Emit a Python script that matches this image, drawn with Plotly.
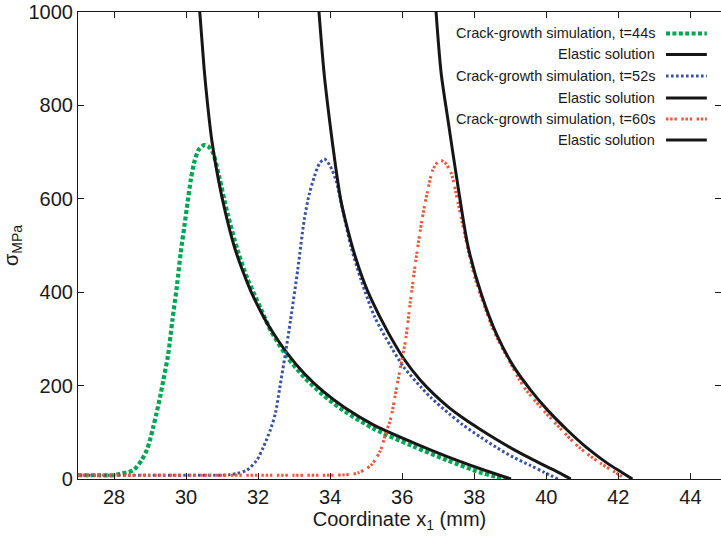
import plotly.graph_objects as go

# Stress profiles ahead of the crack tip (sigma in MPa vs coordinate x1 in mm)

# Crack-growth simulation, t = 44 s
sim44_x = [27.0, 27.5, 28.0, 28.17, 28.35, 28.54, 28.77, 28.91, 29.0, 29.09, 29.18, 29.28,
           29.37, 29.5, 29.62, 29.75, 29.85, 29.95, 30.04, 30.13, 30.22, 30.35, 30.5,
           30.62, 30.75, 30.92, 31.15, 31.43, 31.71, 32.08, 32.35, 32.82, 33.28, 33.8,
           34.4, 35.2, 36.3, 37.25, 38.17, 38.6, 39.0]
sim44_y = [8, 8, 8, 11, 14, 19, 41, 62, 84, 112, 141, 176,
           212, 265, 340, 415, 484, 540, 591, 640, 676, 705, 715,
           712, 698, 647, 569, 490, 428, 364, 318, 260, 218, 180,
           145, 108, 70, 40, 14, 5, 0]

# Elastic solution for the t = 44 s crack
ela44_x = [30.38, 30.5, 30.6, 30.72, 30.9, 31.1, 31.33, 31.55, 31.8, 32.05, 32.31, 32.82,
           33.28, 33.8, 34.4, 35.2, 36.3, 37.25, 38.17, 39.02]
ela44_y = [1000, 880, 800, 722, 640, 568, 500, 450, 402, 362, 326, 268,
           226, 188, 153, 116, 78, 48, 22, 0]

# Crack-growth simulation, t = 52 s
sim52_x = [27.0, 28.0, 29.0, 30.0, 31.0, 31.2, 31.41, 31.69, 31.97, 32.15, 32.34, 32.48,
           32.6, 32.75, 32.9, 33.1, 33.28, 33.42, 33.56, 33.7, 33.84, 34.0, 34.16,
           34.35, 34.58, 34.86, 35.23, 35.69, 36.04, 36.53, 36.8, 37.3, 37.7, 38.17,
           38.63, 39.1, 39.56, 39.95, 40.32]
sim52_y = [8, 8, 8, 8, 8, 9, 12, 19, 41, 69, 105, 141,
           195, 265, 340, 448, 555, 610, 647, 675, 685, 670, 640,
           576, 497, 426, 348, 283, 240, 196, 174, 140, 115, 90,
           67, 46, 29, 14, 0]

# Elastic solution for the t = 52 s crack
ela52_x = [33.69, 33.83, 33.98, 34.15, 34.3, 34.5, 34.67, 34.9, 35.14, 35.6, 36.04, 36.5,
           36.9, 37.3, 37.7, 38.17, 38.63, 39.1, 39.56, 40.0, 40.39, 40.68]
ela52_y = [1000, 870, 770, 670, 595, 530, 483, 430, 385, 315, 258, 212,
           180, 153, 130, 106, 84, 63, 44, 27, 12, 0]

# Crack-growth simulation, t = 60 s
sim60_x = [27.0, 28.0, 29.0, 30.0, 31.0, 32.0, 33.0, 34.0, 34.4, 34.77, 35.14, 35.4,
           35.55, 35.67, 35.85, 35.99, 36.1, 36.22, 36.4, 36.55, 36.7, 36.85, 37.0,
           37.08, 37.2, 37.36, 37.55, 37.73, 38.01, 38.29, 38.45, 38.66, 38.91, 39.37,
           39.83, 40.39, 40.94, 41.5, 41.9, 42.2]
sim60_y = [8, 8, 8, 8, 8, 8, 8, 8, 9, 13, 30, 62,
           100, 126, 198, 255, 300, 376, 480, 555, 615, 662, 680,
           682, 676, 655, 591, 526, 433, 369, 334, 298, 262, 198,
           155, 108, 66, 34, 15, 0]

# Elastic solution for the t = 60 s crack
ela60_x = [36.94, 37.08, 37.27, 37.55, 37.83, 38.2, 38.63, 39.1, 39.56, 40.03, 40.58,
           41.14, 41.69, 42.1, 42.39]
ela60_y = [1000, 870, 769, 626, 497, 395, 308, 240, 191, 148, 105,
           66, 34, 14, 0]

x_ticks = [28, 30, 32, 34, 36, 38, 40, 42, 44]
y_ticks = [0, 200, 400, 600, 800, 1000]

legend_labels = ["Crack-growth simulation, t=44s", "Elastic solution",
                 "Crack-growth simulation, t=52s", "Elastic solution",
                 "Crack-growth simulation, t=60s", "Elastic solution"]

GREEN = "#00A651"
BLUE = "#3953A4"
RED = "#F0553A"
BLACK = "#161616"
FONT = "Liberation Sans, Arial, sans-serif"

styles = [
    dict(color=GREEN, width=4.2, dash="4px,2.4px"),
    dict(color=BLACK, width=3, dash="solid"),
    dict(color=BLUE, width=3, dash="2.6px,2.4px"),
    dict(color=BLACK, width=3, dash="solid"),
    dict(color=RED, width=3, dash="2.4px,1.8px,2.4px,1.8px,2.4px,4.5px"),
    dict(color=BLACK, width=3, dash="solid"),
]

series = [(sim44_x, sim44_y), (ela44_x, ela44_y),
          (sim52_x, sim52_y), (ela52_x, ela52_y),
          (sim60_x, sim60_y), (ela60_x, ela60_y)]

fig = go.Figure()
for (xs, ys), st, name in zip(series, styles, legend_labels):
    fig.add_trace(go.Scatter(
        x=xs, y=ys, mode="lines", name=name, showlegend=False,
        line=dict(color=st["color"], width=st["width"], dash=st["dash"],
                  shape="spline", smoothing=0.8),
    ))

# Legend: right-aligned labels with the line key to their right
row_y = [0.954, 0.909, 0.863, 0.816, 0.771, 0.726]
for name, st, yy in zip(legend_labels, styles, row_y):
    fig.add_annotation(x=0.900, y=yy, xref="paper", yref="paper", text=name,
                       showarrow=False, xanchor="right", yanchor="middle",
                       font=dict(size=14.5, color="#1a1a1a", family=FONT))
    fig.add_shape(type="line", xref="paper", yref="paper",
                  x0=0.9145, x1=0.978, y0=yy, y1=yy,
                  line=dict(color=st["color"], width=st["width"], dash=st["dash"]))

axis_common = dict(
    showgrid=False, zeroline=False, showline=True, linecolor="#1a1a1a",
    linewidth=1.2, mirror="allticks", ticks="inside", ticklen=6,
    tickwidth=1, tickcolor="#1a1a1a",
    tickfont=dict(size=20, color="#1a1a1a", family=FONT),
)

fig.update_xaxes(range=[27, 44.85], tickvals=x_ticks, **axis_common,
                 title=dict(text="Coordinate x<sub>1</sub> (mm)", standoff=4,
                            font=dict(size=20, color="#1a1a1a", family=FONT)))
fig.update_yaxes(range=[0, 1000], tickvals=y_ticks, **axis_common,
                 title=dict(text="σ<sub>MPa</sub>", standoff=8,
                            font=dict(size=20, color="#1a1a1a", family=FONT)))

fig.update_layout(
    width=721, height=536,
    margin=dict(l=78, r=0, t=12, b=57),
    plot_bgcolor="white", paper_bgcolor="white",
    showlegend=False,
)

fig.write_html("out.html")
